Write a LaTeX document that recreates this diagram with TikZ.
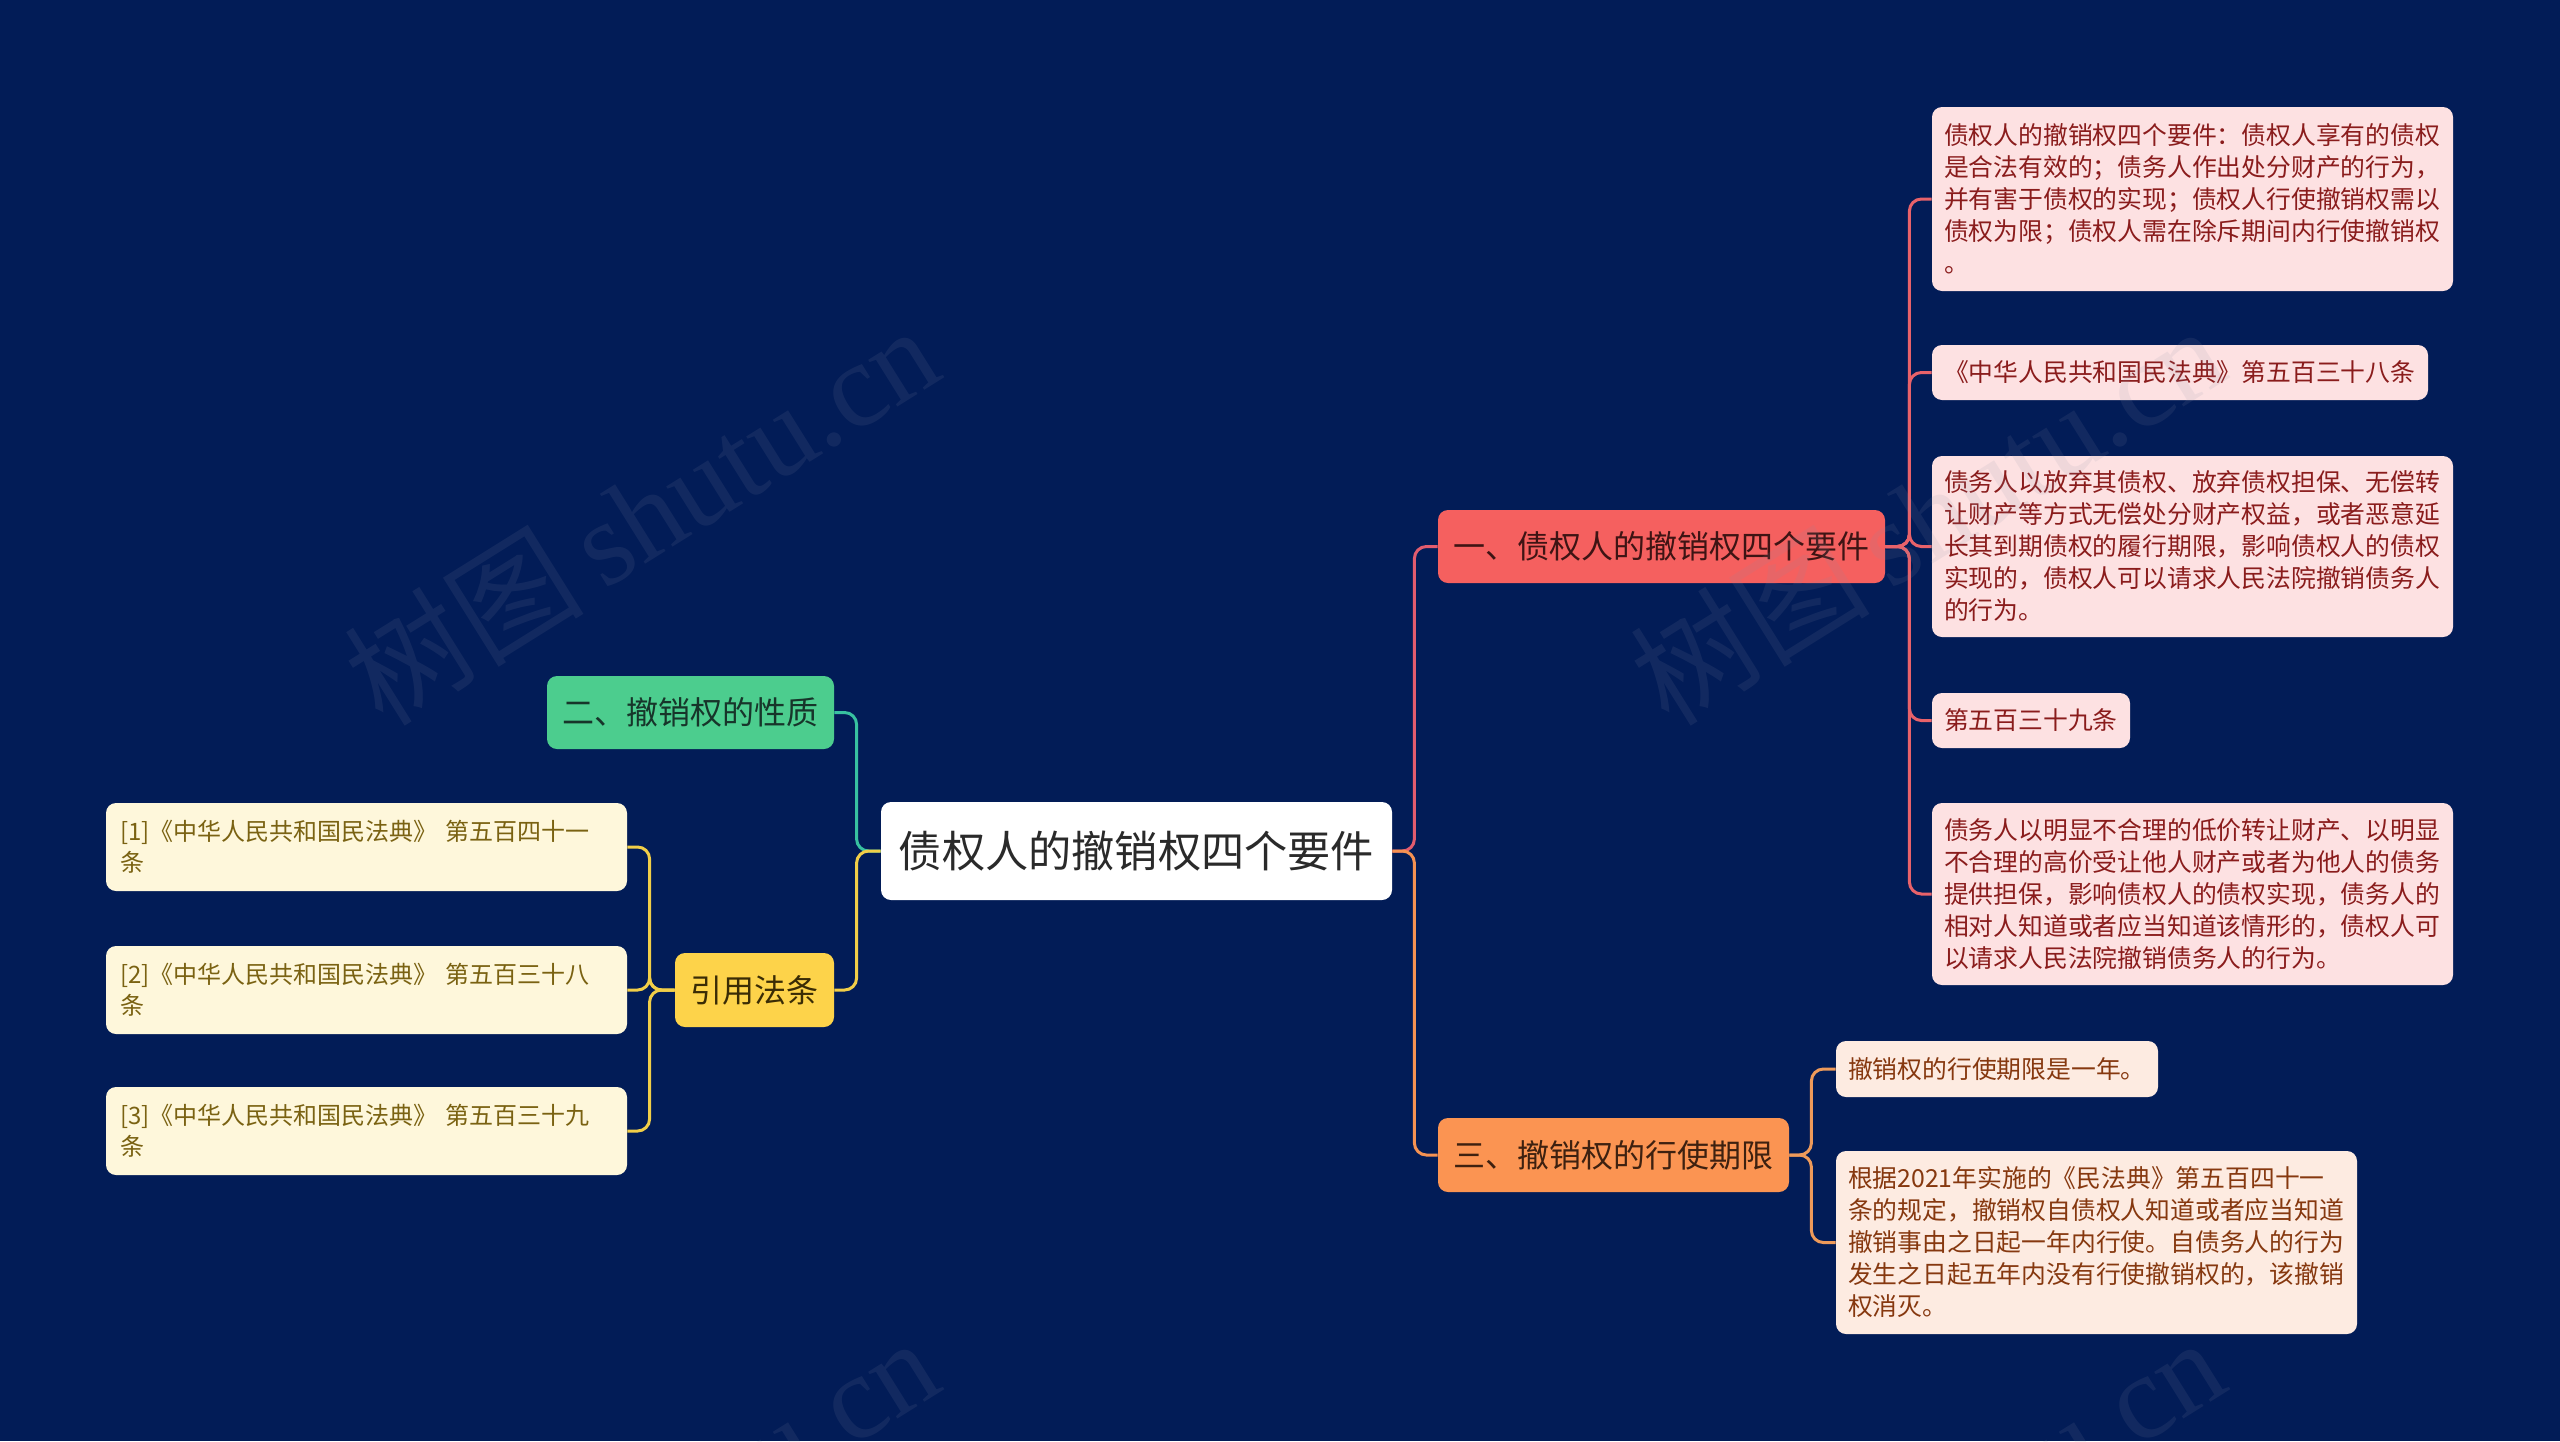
\documentclass[tikz,border=0pt]{standalone}
\usepackage{fontspec}
\setmainfont{Noto Sans CJK SC}
\newfontfamily\wmserif{Liberation Serif}
\newfontfamily\wmcjk{Noto Sans CJK SC}
\usetikzlibrary{calc}
\definecolor{bg}{HTML}{021C57}
\definecolor{rootfill}{HTML}{FFFFFF}
\definecolor{onefill}{HTML}{F5605F}
\definecolor{threefill}{HTML}{FB9452}
\definecolor{twofill}{HTML}{4CCD8E}
\definecolor{citefill}{HTML}{FDD34A}
\definecolor{cfill}{HTML}{FDE1E2}
\definecolor{dfill}{HTML}{FDEBE1}
\definecolor{rfill}{HTML}{FEF7DB}
\definecolor{ctext}{HTML}{8A1C1C}
\definecolor{dtext}{HTML}{86380F}
\definecolor{rtext}{HTML}{7A6212}
\definecolor{lnone}{HTML}{E25C6E}
\definecolor{lnthree}{HTML}{F59252}
\definecolor{lntwo}{HTML}{38C1A0}
\definecolor{lncite}{HTML}{F1CE48}
\definecolor{lnc}{HTML}{E8626A}
\definecolor{lnd}{HTML}{EE9A5A}
\definecolor{wmcol}{HTML}{8A8FA8}
\definecolor{onetext}{HTML}{3E1414}
\definecolor{threetext}{HTML}{3E2110}
\definecolor{twotext}{HTML}{17352A}
\definecolor{citetext}{HTML}{3A2C05}
\definecolor{roottext}{HTML}{2A2A2A}
\tikzset{
  box/.style={rounded corners=5pt, inner ysep=2pt},
  mainbox/.style={box, font=\fontsize{16}{20}\selectfont, inner xsep=7pt, align=center},
  rootbox/.style={box, fill=rootfill, text=roottext, font=\fontsize{21.6}{26}\selectfont, inner xsep=6pt, minimum width=255.5pt, minimum height=49pt},
  onebox/.style={mainbox, fill=onefill, text=onetext},
  threebox/.style={mainbox, fill=threefill, text=threetext},
  twobox/.style={mainbox, fill=twofill, text=twotext},
  citebox/.style={mainbox, fill=citefill, text=citetext},
  leaf/.style={box, font=\fontsize{12.4}{16}\selectfont, inner xsep=6pt, align=left},
  cbox/.style={leaf, fill=cfill, text=ctext},
  dbox/.style={leaf, fill=dfill, text=dtext},
  rbox/.style={leaf, fill=rfill, text=rtext, inner xsep=7pt, font=\fontsize{12}{15.5}\selectfont, text width=246.5pt, minimum height=44pt},
  conn/.style={line width=1.5pt, rounded corners=6pt},
  wm/.style={rotate=32, text=wmcol, opacity=0.12, font=\fontsize{60}{60}\selectfont}
}
\begin{document}
\begin{tikzpicture}[x=0.5pt,y=-0.5pt]
\fill[bg] (0,0) rectangle (2560,1441);
\useasboundingbox (0,0) rectangle (2560,1441);

% main nodes
\node[rootbox] (root) at (1136.5,851) {债权人的撤销权四个要件};
\node[onebox, minimum width=223.5pt, minimum height=36.5pt] (one) at (1661.5,546.5) {一、债权人的撤销权四个要件};
\node[threebox, minimum width=175.5pt, minimum height=37pt] (three) at (1613.5,1155) {三、撤销权的行使期限};
\node[twobox, minimum width=143.5pt, minimum height=36.5pt] (two) at (690.5,712.5) {二、撤销权的性质};
\node[citebox, minimum width=79.5pt, minimum height=37pt] (cite) at (754.5,990) {引用法条};

% children of one
\node[cbox, text width=248.5pt, minimum height=92pt] (c1) at (2192.5,199) {债权人的撤销权四个要件：债权人享有的债权\\是合法有效的；债务人作出处分财产的行为，\\并有害于债权的实现；债权人行使撤销权需以\\债权为限；债权人需在除斥期间内行使撤销权\\。};
\node[cbox, text width=236pt, minimum height=27.5pt] (c2) at (2180,372.5) {《中华人民共和国民法典》第五百三十八条};
\node[cbox, text width=248.5pt, minimum height=90.5pt] (c3) at (2192.5,546.5) {债务人以放弃其债权、放弃债权担保、无偿转\\让财产等方式无偿处分财产权益，或者恶意延\\长其到期债权的履行期限，影响债权人的债权\\实现的，债权人可以请求人民法院撤销债务人\\的行为。};
\node[cbox, text width=87pt, minimum height=27.5pt] (c4) at (2031,720.5) {第五百三十九条};
\node[cbox, text width=248.5pt, minimum height=91pt] (c5) at (2192.5,894) {债务人以明显不合理的低价转让财产、以明显\\不合理的高价受让他人财产或者为他人的债务\\提供担保，影响债权人的债权实现，债务人的\\相对人知道或者应当知道该情形的，债权人可\\以请求人民法院撤销债务人的行为。};

% children of three
\node[dbox, text width=149pt, minimum height=28pt] (d1) at (1997,1069) {撤销权的行使期限是一年。};
\node[dbox, text width=248.5pt, minimum height=91.5pt] (d2) at (2096.5,1242.5) {根据2021年实施的《民法典》第五百四十一\\条的规定，撤销权自债权人知道或者应当知道\\撤销事由之日起一年内行使。自债务人的行为\\发生之日起五年内没有行使撤销权的，该撤销\\权消灭。};

% references
\node[rbox] (r1) at (366.5,847) {[1]《中华人民共和国民法典》 第五百四十一\\条};
\node[rbox] (r2) at (366.5,990) {[2]《中华人民共和国民法典》 第五百三十八\\条};
\node[rbox] (r3) at (366.5,1131) {[3]《中华人民共和国民法典》 第五百三十九\\条};

% connectors
\draw[conn, lnone] (root.east) -- ++(11pt,0) |- (one.west);
\draw[conn, lnthree] (root.east) -- ++(11pt,0) |- (three.west);
\draw[conn, lntwo] (root.west) -- ++(-12pt,0) |- (two.east);
\draw[conn, lncite] (root.west) -- ++(-12pt,0) |- (cite.east);

\foreach \c in {c1,c2,c3,c4,c5}
  \draw[conn, lnc] (one.east) -- ++(12pt,0) |- (\c.west);
\foreach \d in {d1,d2}
  \draw[conn, lnd] (three.east) -- ++(11pt,0) |- (\d.west);
\foreach \r in {r1,r2,r3}
  \draw[conn, lncite] (cite.west) -- ++(-12.5pt,0) |- (\r.east);

% watermarks
\begin{scope}
\clip (0,0) rectangle (2560,1441);
\node[wm] (wm1) at (641,514) {\wmcjk 树图\,\wmserif shutu.cn};
\node[wm] (wm2) at (1927,514) {\wmcjk 树图\,\wmserif shutu.cn};
\node[wm] (wm3) at (641,1526) {\wmcjk 树图\,\wmserif shutu.cn};
\node[wm] (wm4) at (1927,1526) {\wmcjk 树图\,\wmserif shutu.cn};
\end{scope}
\end{tikzpicture}
\end{document}
